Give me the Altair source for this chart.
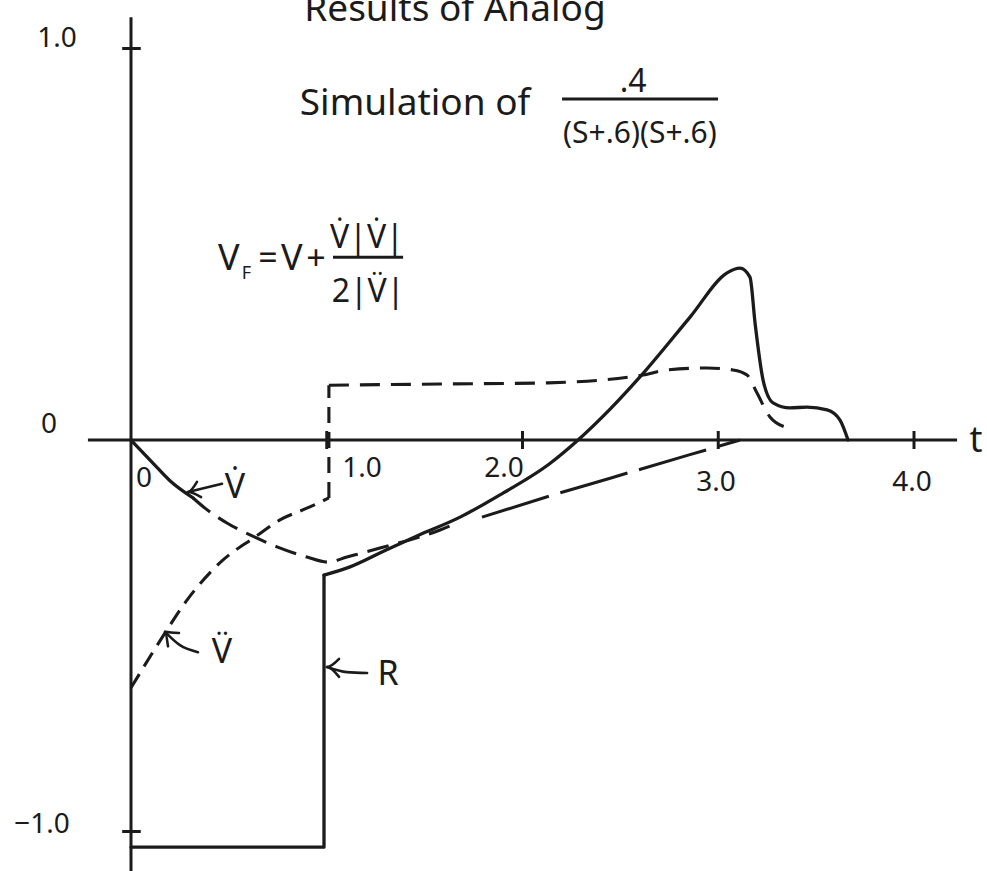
import altair as alt
import pandas as pd

INK = "#1b1b1b"
FONT = "Noto Sans"

# ---------------- curve data (t, value) ----------------
# R : reference step, then the solid response after switching
r_step_t = [0.0, 0.986, 0.986]
r_step_v = [-1.040, -1.040, -0.345]

r_t = [0.986, 1.119, 1.287, 1.461, 1.681, 1.885, 2.140, 2.284, 2.450, 2.600, 2.856,
       3.045, 3.111, 3.162, 3.188, 3.229, 3.280, 3.367, 3.453, 3.556, 3.622, 3.663]
r_v = [-0.345, -0.324, -0.285, -0.245, -0.197, -0.140, -0.060, 0.000, 0.080, 0.161, 0.314,
       0.427, 0.439, 0.416, 0.299, 0.153, 0.095, 0.082, 0.084, 0.077, 0.051, 0.000]

# V-dot : solid start, short dashes, then long dashes
vd_solid_t = [0.0, 0.112, 0.199, 0.317]
vd_solid_v = [0.0, -0.059, -0.104, -0.148]

vd_dash_t = [0.317, 0.378, 0.490, 0.633, 0.746, 0.899, 1.006, 1.103, 1.272, 1.579, 1.665]
vd_dash_v = [-0.148, -0.174, -0.212, -0.248, -0.273, -0.299, -0.312, -0.299, -0.276, -0.230, -0.212]

vd_long_t = [1.793, 2.140, 2.452, 2.851, 3.111]
vd_long_v = [-0.197, -0.143, -0.097, -0.038, 0.000]

# V-double-dot : dashed, jumps at t = 1.0
vdd_low_t = [0.0, 0.184, 0.286, 0.469, 0.633, 0.761, 0.914, 1.011]
vdd_low_v = [-0.633, -0.485, -0.409, -0.307, -0.248, -0.204, -0.171, -0.148]

vdd_jump_t = [1.011, 1.011]
vdd_jump_v = [-0.148, 0.140]

vdd_high_t = [1.011, 1.579, 2.130, 2.616, 2.738, 2.943, 3.075, 3.147, 3.198, 3.264, 3.356]
vdd_high_v = [0.140, 0.143, 0.146, 0.166, 0.179, 0.184, 0.179, 0.166, 0.120, 0.059, 0.031]

# ---------------- axes ----------------
x_ticks = [1.0, 2.0, 3.0, 4.0]
x_tick_labels = ["1.0", "2.0", "3.0", "4.0"]
y_ticks = [1.0, -1.0]

X_DOMAIN = [-0.6692, 4.3729]
Y_DOMAIN = [-1.1009, 1.1239]

xs = alt.Scale(domain=X_DOMAIN, nice=False, zero=False)
ys = alt.Scale(domain=Y_DOMAIN, nice=False, zero=False)


def curve(ts, vs):
    return pd.DataFrame({"ord": list(range(len(ts))), "t": ts, "v": vs})


def line(ts, vs, dash=None, interp="linear", width=3.3):
    kw = dict(interpolate=interp, strokeWidth=width, color=INK,
              strokeCap="butt" if dash else "round", strokeJoin="round")
    if dash:
        kw["strokeDash"] = dash
    return alt.Chart(curve(ts, vs)).mark_line(**kw).encode(
        x=alt.X("t:Q", scale=xs, axis=None),
        y=alt.Y("v:Q", scale=ys, axis=None),
        order="ord:Q",
    )


curves = [
    line(r_step_t, r_step_v),
    line(r_t, r_v, interp="monotone"),
    line(vd_solid_t, vd_solid_v, interp="monotone"),
    line(vd_dash_t, vd_dash_v, dash=[22, 10], interp="monotone", width=3.1),
    line(vd_long_t, vd_long_v, dash=[70, 12], interp="monotone", width=3.1),
    line(vdd_low_t, vdd_low_v, dash=[16, 9], interp="monotone", width=3.1),
    line(vdd_jump_t, vdd_jump_v, dash=[16, 9], width=3.1),
    line(vdd_high_t, vdd_high_v, dash=[20, 11], interp="monotone", width=3.1),
]

# axis lines and tick marks
axis_rows = [
    {"t": 0.0, "t2": 0.0, "v": 1.08, "v2": Y_DOMAIN[0]},          # vertical axis
    {"t": -0.22, "t2": 4.22, "v": 0.0, "v2": 0.0},               # time axis
]
for yt in y_ticks:
    axis_rows.append({"t": -0.045, "t2": 0.05, "v": yt, "v2": yt})
for xt in x_ticks:
    axis_rows.append({"t": xt, "t2": xt, "v": 0.023, "v2": -0.023})
axes = alt.Chart(pd.DataFrame(axis_rows)).mark_rule(color=INK, strokeWidth=3).encode(
    x=alt.X("t:Q", scale=xs, axis=None), x2="t2:Q",
    y=alt.Y("v:Q", scale=ys, axis=None), y2="v2:Q",
)

# fraction bars of the two formulas
bars = alt.Chart(pd.DataFrame([
    {"t": 2.202, "t2": 2.999, "v": 0.871},
    {"t": 1.032, "t2": 1.390, "v": 0.467},
])).mark_rule(color=INK, strokeWidth=3).encode(
    x=alt.X("t:Q", scale=xs, axis=None), x2="t2:Q",
    y=alt.Y("v:Q", scale=ys, axis=None),
)

# pointer arrows to the curve labels
arrow_rows = []
arrows = {
    "vd": [(0.465, -0.112), (0.291, -0.133)],
    "vd_w1": [(0.358, -0.146), (0.291, -0.133), (0.337, -0.107)],
    "vdd": [(0.342, -0.542), (0.250, -0.524), (0.174, -0.490)],
    "vdd_w": [(0.189, -0.527), (0.174, -0.490), (0.245, -0.493)],
    "r": [(1.206, -0.595), (1.103, -0.593), (1.001, -0.580)],
    "r_w": [(1.063, -0.559), (1.001, -0.580), (1.063, -0.605)],
}
for key, pts in arrows.items():
    for i, (t, v) in enumerate(pts):
        arrow_rows.append({"seg": key, "ord": i, "t": t, "v": v})
arrow_layer = alt.Chart(pd.DataFrame(arrow_rows)).mark_line(
    color=INK, strokeWidth=2.6, interpolate="monotone", strokeCap="round", strokeJoin="round"
).encode(
    x=alt.X("t:Q", scale=xs, axis=None),
    y=alt.Y("v:Q", scale=ys, axis=None),
    detail="seg:N", order="ord:Q",
)

# text
labels = [
    ("Results of Analog", 1.655, 1.070, 37),
    ("Simulation of", 1.451, 0.830, 37),
    (".4", 2.565, 0.889, 32),
    ("(S+.6)(S+.6)", 2.600, 0.759, 30),
    ("V", 0.500, 0.434, 36),
    ("F", 0.590, 0.410, 18),
    ("=", 0.700, 0.434, 34),
    ("V", 0.822, 0.434, 36),
    ("+", 0.945, 0.434, 34),
    ("V\u0307|V\u0307|", 1.205, 0.490, 32),
    ("2|V\u0308|", 1.211, 0.352, 32),
    ("1.0", -0.378, 1.004, 28),
    ("0", -0.419, 0.018, 28),
    ("\u22121.0", -0.455, -1.004, 28),
    ("0", 0.066, -0.120, 28),
    ("t", 4.317, -0.031, 36),
    ("V\u0307", 0.531, -0.148, 34),
    ("V\u0308", 0.465, -0.570, 34),
    ("R", 1.313, -0.626, 34),
]
x_label_v = [-0.095, -0.095, -0.130, -0.130]
x_label_t = [1.180, 1.906, 2.989, 3.990]
for lab, t, v in zip(x_tick_labels, x_label_t, x_label_v):
    labels.append((lab, t, v, 28))

text = alt.Chart(pd.DataFrame(labels, columns=["label", "t", "v", "fs"])).mark_text(
    align="center", baseline="alphabetic", font=FONT, color=INK
).encode(
    x=alt.X("t:Q", scale=xs, axis=None),
    y=alt.Y("v:Q", scale=ys, axis=None),
    text="label:N",
    size=alt.Size("fs:Q", scale=None, legend=None),
)

chart = alt.layer(axes, *curves, bars, arrow_layer, text).properties(
    width=987, height=871,
    autosize=alt.AutoSizeParams(type="none"),
    padding=0,
    background="white",
).configure_view(stroke=None)

chart.save("out.html", embed_options={"renderer": "svg", "actions": False})
